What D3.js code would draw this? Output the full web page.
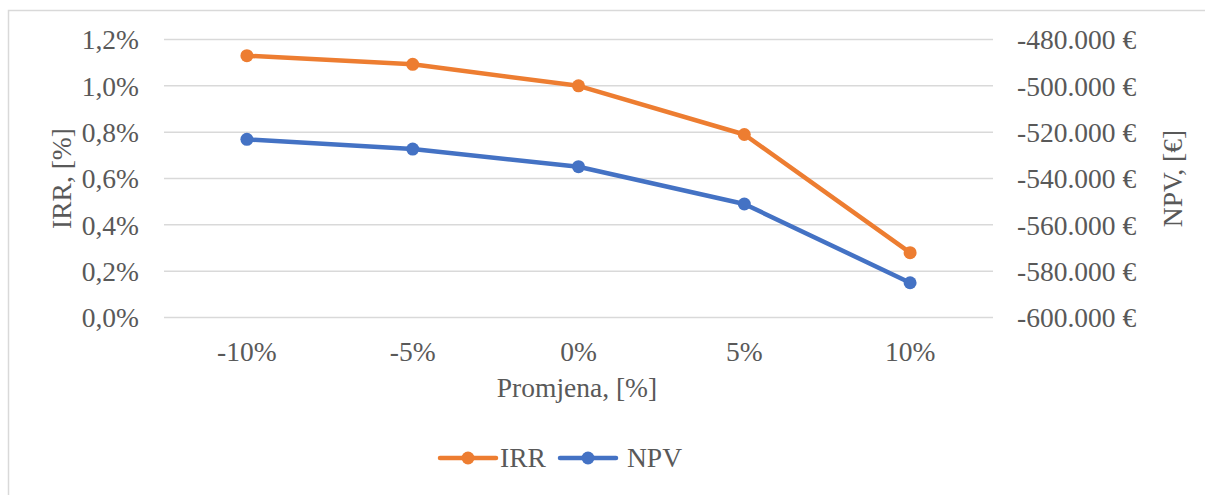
<!DOCTYPE html>
<html>
<head>
<meta charset="utf-8">
<script src="https://cdn.jsdelivr.net/npm/d3@7"></script>
<style>
  html, body { margin: 0; padding: 0; background: #fff; }
  svg text { font-family: "Liberation Serif", "Times New Roman", serif; fill: #595959; }
</style>
</head>
<body>
<svg id="chart" width="1205" height="495"></svg>
<script>
// Sensitivity of IRR and NPV to a change in the input parameter
const categories = ["-10%", "-5%", "0%", "5%", "10%"];
const irrValues = [1.13, 1.093, 1.0, 0.79, 0.28];                 // IRR, %
const npvValues = [-523100, -527300, -534900, -551000, -585000];  // NPV, €
const irrTicks = [0, 0.2, 0.4, 0.6, 0.8, 1.0, 1.2];
const npvTicks = [-600000, -580000, -560000, -540000, -520000, -500000, -480000];

const svg = d3.select("#chart");
const W = 1205, H = 495;
const plot = { left: 164, right: 993, top: 39.5, bottom: 317.5 };
const colIRR = "#ED7D31", colNPV = "#4472C4";
const fs = 27.5;

// chart frame
svg.append("rect")
  .attr("x", 8.5).attr("y", 10.5)
  .attr("width", W + 10).attr("height", H + 10)
  .attr("fill", "none").attr("stroke", "#d9d9d9").attr("stroke-width", 1.5);

const x = d3.scaleBand().domain(categories).range([plot.left, plot.right]);
const yL = d3.scaleLinear().domain([0, 1.2]).range([plot.bottom, plot.top]);
const yR = d3.scaleLinear().domain([-600000, -480000]).range([plot.bottom, plot.top]);

// horizontal gridlines
svg.append("g").selectAll("line").data(irrTicks).join("line")
  .attr("x1", plot.left).attr("x2", plot.right)
  .attr("y1", d => yL(d)).attr("y2", d => yL(d))
  .attr("stroke", "#d9d9d9").attr("stroke-width", 1.5);

const fmtPct = d => d.toFixed(1).replace(".", ",") + "%";
const fmtEur = d => {
  const s = d3.format(",")(Math.abs(d)).replace(/,/g, ".");
  return (d < 0 ? "-" : "") + s + " €";
};

function styleAxis(g, dy) {
  g.select(".domain").remove();
  g.attr("font-family", null).attr("font-size", null);
  g.selectAll("text").attr("font-size", fs).attr("dy", dy)
    .attr("fill", "#595959");
}

// left axis
svg.append("g").attr("transform", `translate(${plot.left - 25},0)`)
  .call(d3.axisLeft(yL).tickValues(irrTicks).tickFormat(fmtPct).tickSize(0).tickPadding(0))
  .call(g => styleAxis(g, "0.34em"));

// right axis
svg.append("g").attr("transform", `translate(${plot.right + 24},0)`)
  .call(d3.axisRight(yR).tickValues(npvTicks).tickFormat(fmtEur).tickSize(0).tickPadding(0))
  .call(g => styleAxis(g, "0.34em"));

// category axis
svg.append("g").attr("transform", `translate(0,${plot.bottom + 24})`)
  .call(d3.axisBottom(x).tickSize(0).tickPadding(0))
  .call(g => styleAxis(g, "0.7em"));

// axis titles
svg.append("text").attr("x", 577).attr("y", 397)
  .attr("text-anchor", "middle").attr("font-size", fs).text("Promjena, [%]");
svg.append("text")
  .attr("transform", `translate(71,${(plot.top + plot.bottom) / 2}) rotate(-90)`)
  .attr("text-anchor", "middle").attr("font-size", fs).text("IRR, [%]");
svg.append("text")
  .attr("transform", `translate(1182,${(plot.top + plot.bottom) / 2}) rotate(-90)`)
  .attr("text-anchor", "middle").attr("font-size", fs).text("NPV, [€]");

// series
const cx = d => x(d) + x.bandwidth() / 2;
const series = [
  { name: "IRR", color: colIRR, values: irrValues, y: yL },
  { name: "NPV", color: colNPV, values: npvValues, y: yR }
];
series.slice().reverse().forEach(s => {
  const pts = categories.map((c, i) => [cx(c), s.y(s.values[i])]);
  svg.append("path").attr("d", d3.line()(pts))
    .attr("fill", "none").attr("stroke", s.color).attr("stroke-width", 4.5)
    .attr("stroke-linejoin", "round").attr("stroke-linecap", "round");
  svg.append("g").selectAll("circle").data(pts).join("circle")
    .attr("cx", d => d[0]).attr("cy", d => d[1]).attr("r", 6.5)
    .attr("fill", s.color);
});

// legend
const legend = [
  { name: "IRR", color: colIRR, x0: 440 },
  { name: "NPV", color: colNPV, x0: 560 }
];
const ly = 458;
legend.forEach(l => {
  svg.append("line").attr("x1", l.x0).attr("x2", l.x0 + 56)
    .attr("y1", ly).attr("y2", ly)
    .attr("stroke", l.color).attr("stroke-width", 4.5).attr("stroke-linecap", "round");
  svg.append("circle").attr("cx", l.x0 + 28).attr("cy", ly).attr("r", 6.5).attr("fill", l.color);
  svg.append("text").attr("x", l.x0 + 60 + (l.name === "NPV" ? 7 : 0)).attr("y", ly).attr("dy", "0.34em")
    .attr("font-size", fs).text(l.name);
});
</script>
</body>
</html>
